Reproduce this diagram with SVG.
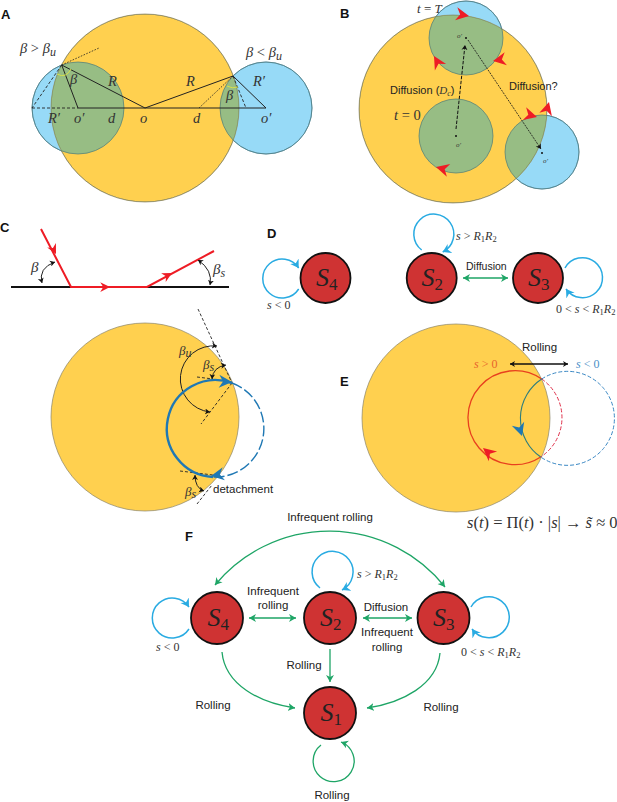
<svg xmlns="http://www.w3.org/2000/svg" xmlns:xlink="http://www.w3.org/1999/xlink" width="617" height="802" viewBox="0 0 617 802">
<style>
text{font-family:"Liberation Sans",Arial,sans-serif;font-size:11.5px;fill:#222}
.m{font-family:"Liberation Serif","DejaVu Serif",serif;font-size:14.5px;fill:#333}
.ms{font-size:12px}
.i{font-style:italic}
.p{font-weight:bold;font-size:13px;fill:#111}
.c{text-anchor:middle}
.y{fill:#FFD04F;stroke:#8A8468;stroke-width:.7}
.b{fill:#97DAF7;stroke:#4C86A8;stroke-width:.7}
.g{fill:#97BD84}
.ol{fill:none;stroke-width:.7}
.st{fill:#CF3333;stroke:#111;stroke-width:1.8}
.sl{font-family:"Liberation Serif",serif;font-style:italic;font-size:26px;fill:#222}
.sub{font-size:17px;font-style:normal}
.k{fill:none;stroke:#222;stroke-width:1}
.kd{fill:none;stroke:#222;stroke-width:.9;stroke-dasharray:3 2}
.kf{fill:none;stroke:#222;stroke-width:.8;stroke-dasharray:1.6 1.4}
.lb{fill:none;stroke:#29ABE2;stroke-width:1.5;marker-end:url(#mb)}
.lg{fill:none;stroke:#1EA566;stroke-width:1.3;marker-end:url(#mg)}
.lgd{fill:none;stroke:#1EA566;stroke-width:1.3;marker-end:url(#mg);marker-start:url(#mgs)}
.r{fill:none;stroke:#EE1C25;stroke-width:2}
</style>
<defs>
<marker id="mb" markerUnits="userSpaceOnUse" markerWidth="12" markerHeight="12" refX="8" refY="5" orient="auto"><path d="M0 0L8 5L0 10L2.500 5Z" fill="#29ABE2"/></marker>
<marker id="mg" markerUnits="userSpaceOnUse" markerWidth="10" markerHeight="10" refX="7" refY="4" orient="auto"><path d="M0 0L7 4L0 8L2 4Z" fill="#1EA566"/></marker>
<marker id="mgs" markerUnits="userSpaceOnUse" markerWidth="10" markerHeight="10" refX="0" refY="4" orient="auto"><path d="M7 0L0 4L7 8L5 4Z" fill="#1EA566"/></marker>
<marker id="mk" markerUnits="userSpaceOnUse" markerWidth="8" markerHeight="8" refX="5" refY="3" orient="auto"><path d="M0 0L5 3L0 6L1.400 3Z" fill="#111"/></marker>
<marker id="mks" markerUnits="userSpaceOnUse" markerWidth="8" markerHeight="8" refX="0" refY="3" orient="auto"><path d="M5 0L0 3L5 6L3.600 3Z" fill="#111"/></marker>
<path id="rh" d="M0 0L-13 -6.500L-9 0L-13 6.500Z" fill="#EE1C25"/>
<path id="bh" d="M0 0L-13 -6.500L-9 0L-13 6.500Z" fill="#1F78B4"/>
<clipPath id="ca"><circle cx="145" cy="108" r="94"/></clipPath>
<clipPath id="cb"><circle cx="453" cy="109" r="94"/></clipPath>
</defs>
<rect width="617" height="802" fill="#fff"/>

<g id="panel-A">
<circle class="b" cx="78" cy="108" r="46"/><circle class="b" cx="266" cy="108" r="46"/>
<circle class="y" cx="145" cy="108" r="94"/>
<g clip-path="url(#ca)"><circle class="g" cx="78" cy="108" r="46"/><circle class="g" cx="266" cy="108" r="46"/></g>
<g class="ol" stroke="#4C7A78"><circle cx="78" cy="108" r="46"/><circle cx="266" cy="108" r="46"/><circle cx="145" cy="108" r="94" stroke="#6E7A58" clip-path="url(#ca)"/></g>
<path class="k" d="M78 108H266M61.700 65L145 108M61.700 65L78 108M233 76L145 108M233 76L266 108"/>
<path class="kd" d="M32 108H78M61.700 65L32 108M233 76L246 108"/>
<path class="kf" d="M61.700 65L99 48M233 76L199 108"/>
<path d="M57 74Q66 79 71 69M227 86Q232 89 238 87" fill="none" stroke="#D6E04A" stroke-width="1"/>
<text class="p" x="1" y="19">A</text>
<text class="m" x="20" y="53"><tspan class="i">β</tspan> &gt; <tspan class="i">β</tspan><tspan class="ms i" dy="3">u</tspan></text>
<text class="m" x="246" y="57"><tspan class="i">β</tspan> &lt; <tspan class="i">β</tspan><tspan class="ms i" dy="3">u</tspan></text>
<text class="m i" x="108" y="86">R</text><text class="m i" x="70" y="84">β</text>
<text class="m i" x="48" y="123">R′</text><text class="m i" x="74" y="123">o′</text>
<text class="m i" x="108" y="123">d</text><text class="m i" x="140" y="123">o</text>
<text class="m i" x="193" y="123">d</text><text class="m i" x="261" y="123">o′</text>
<text class="m i" x="186" y="86">R</text><text class="m i" x="253" y="86">R′</text>
<text class="m i" x="226" y="100">β</text>
</g>

<g id="panel-B">
<circle class="b" cx="466" cy="38" r="37"/><circle class="b" cx="542" cy="152" r="37"/>
<circle class="y" cx="453" cy="109" r="94"/>
<g clip-path="url(#cb)"><circle class="g" cx="466" cy="38" r="37"/><circle class="g" cx="456" cy="136" r="37"/><circle class="g" cx="542" cy="152" r="37"/></g>
<g class="ol" stroke="#4C7A78"><circle cx="466" cy="38" r="37"/><circle cx="456" cy="136" r="37"/><circle cx="542" cy="152" r="37"/><circle cx="453" cy="109" r="94" stroke="#6E7A58" clip-path="url(#cb)"/></g>
<path d="M456 129L465 45" fill="none" stroke="#111" stroke-width="1" stroke-dasharray="3.500 1.500" marker-end="url(#mk)"/>
<path d="M468 40L541 149" fill="none" stroke="#111" stroke-width=".8" stroke-dasharray="2 1" marker-end="url(#mk)"/>
<circle cx="466" cy="38" r="1" fill="#111"/><circle cx="456" cy="136" r="1" fill="#111"/><circle cx="542" cy="153" r="1" fill="#111"/>
<use xlink:href="#rh" href="#rh" transform="translate(469,16) rotate(10)"/>
<use xlink:href="#rh" href="#rh" transform="translate(493,61) rotate(170)"/>
<use xlink:href="#rh" href="#rh" transform="translate(434,56) rotate(-120)"/>
<use xlink:href="#rh" href="#rh" transform="translate(436,167) rotate(-165)"/>
<use xlink:href="#rh" href="#rh" transform="translate(537,117) rotate(15)"/>
<use xlink:href="#rh" href="#rh" transform="translate(549,102) rotate(-75)"/>
<text class="p" x="340" y="18">B</text>
<text class="m" style="font-size:13px" x="417" y="13"><tspan class="i">t</tspan> = <tspan class="i">T</tspan></text>
<text style="font-size:11px" x="390" y="94">Diffusion (<tspan class="m i" style="font-size:11px">D</tspan><tspan class="m i" style="font-size:8px" dy="2">c</tspan><tspan dy="-2">)</tspan></text>
<text style="font-size:11px" x="509" y="90">Diffusion?</text>
<text class="m" x="394" y="120"><tspan class="i">t</tspan> = 0</text>
<text class="m i" style="font-size:7px" x="457" y="38">o′</text>
<text class="m i" style="font-size:7px" x="456" y="147">o′</text>
<text class="m i" style="font-size:7px" x="543" y="163">o′</text>
</g>

<g id="panel-C">
<path d="M11 287H229" stroke="#111" stroke-width="2" fill="none"/>
<path class="r" d="M41 229L71 287H147L214 251"/>
<use xlink:href="#rh" href="#rh" transform="translate(56,254) rotate(63) scale(.75)"/>
<use xlink:href="#rh" href="#rh" transform="translate(110,287) scale(.75)"/>
<use xlink:href="#rh" href="#rh" transform="translate(172,273) rotate(-28) scale(.75)"/>
<path class="k" d="M55 262Q38 268 42 283" marker-end="url(#mk)" marker-start="url(#mks)"/>
<path class="k" d="M198 260Q213 270 210 285" marker-end="url(#mk)" marker-start="url(#mks)"/>
<text class="m i" style="font-size:15px" x="31" y="272">β</text>
<text class="m i" style="font-size:15px" x="213" y="274">β<tspan class="ms" dy="3">s</tspan></text>
<circle class="y" cx="145" cy="417" r="94"/>
<path class="kd" d="M198 309L232 383"/>
<path class="kd" d="M232 383L201 424M197 377L213 379M180 471L213 475M197 504L212 485"/>
<path class="k" d="M217 346A33 33 0 0 0 210 412" marker-end="url(#mk)" marker-start="url(#mks)"/>
<path class="k" d="M226 365Q213 367 212 379" marker-end="url(#mk)" marker-start="url(#mks)"/>
<path class="k" d="M195 475Q195 488 204 491" marker-end="url(#mk)" marker-start="url(#mks)"/>
<path d="M232 383A48.500 48.500 0 1 0 213 477" fill="none" stroke="#1F78B4" stroke-width="2.400"/>
<path d="M232 383A48.500 48.500 0 0 1 213 477" fill="none" stroke="#1F78B4" stroke-width="1.400" stroke-dasharray="11 3"/>
<use xlink:href="#bh" href="#bh" transform="translate(232,382) rotate(3)"/>
<use xlink:href="#bh" href="#bh" transform="translate(211,476) rotate(170)"/>
<text class="p" x="0" y="232">C</text>
<text class="m i" style="font-size:13px" x="179" y="355">β<tspan class="ms" dy="2">u</tspan></text>
<text class="m i" style="font-size:13px" x="203" y="369">β<tspan class="ms" dy="2">s</tspan></text>
<text class="m i" style="font-size:13px" x="185" y="496">β<tspan class="ms" dy="2">s</tspan></text>
<text x="213" y="493">detachment</text>
</g>

<g id="panel-D">
<text class="p" x="267" y="238">D</text>
<g id="D-S4"><circle class="st" cx="325.500" cy="278" r="25"/><text class="sl" x="316" y="286">S<tspan class="sub" dy="4">4</tspan></text></g>
<g id="D-S2"><circle class="st" cx="431.700" cy="278" r="25"/><text class="sl" x="421.500" y="286">S<tspan class="sub" dy="4">2</tspan></text></g>
<g id="D-S3"><circle class="st" cx="538" cy="278" r="25"/><text class="sl" x="528" y="286">S<tspan class="sub" dy="4">3</tspan></text></g>
<g id="D-connectors">
<path class="lb" d="M298.700 289A19.500 19.500 0 1 1 298.700 268"/>
<path class="lb" d="M421.700 250A20 20 0 1 1 442.700 252"/>
<path class="lb" d="M565 268A20 20 0 1 1 566 289"/>
<path class="lgd" d="M463 278H508"/>
</g>
<text class="m ms" x="267" y="309"><tspan class="i">s</tspan> &lt; 0</text>
<text class="m ms" x="456" y="240"><tspan class="i">s</tspan> &gt; <tspan class="i">R</tspan><tspan font-size="8.500" dy="2">1</tspan><tspan class="i" dy="-2">R</tspan><tspan font-size="8.500" dy="2">2</tspan></text>
<text class="m ms" x="556" y="313">0 &lt; <tspan class="i">s</tspan> &lt; <tspan class="i">R</tspan><tspan font-size="8.500" dy="2">1</tspan><tspan class="i" dy="-2">R</tspan><tspan font-size="8.500" dy="2">2</tspan></text>
<text x="466" y="270" style="font-size:10.500px">Diffusion</text>
</g>

<g id="panel-E">
<circle class="y" cx="456" cy="418" r="94"/>
<path d="M541.700 379A47 47 0 1 0 540.700 457" fill="none" stroke="#E8401E" stroke-width="1.300"/>
<path d="M541.700 379A47 47 0 0 1 540.700 457" fill="none" stroke="#E0304A" stroke-width="1" stroke-dasharray="4 2"/>
<path d="M541.700 379A47 47 0 0 0 540.700 457" fill="none" stroke="#2E7D7D" stroke-width="1.100"/>
<path d="M541.700 379A47 47 0 1 1 540.700 457" fill="none" stroke="#3A88C4" stroke-width="1" stroke-dasharray="4 2"/>
<use xlink:href="#bh" href="#bh" transform="translate(522,436) rotate(72)"/>
<use xlink:href="#rh" href="#rh" transform="translate(483,448) rotate(-140)"/>
<path d="M510 364H568" stroke="#111" stroke-width="1.300" fill="none" marker-end="url(#mk)" marker-start="url(#mks)"/>
<text class="p" x="340" y="386">E</text>
<text x="522" y="351">Rolling</text>
<text class="m ms" style="fill:#E8622C" x="474" y="368"><tspan class="i">s</tspan> &gt; 0</text>
<text class="m ms" style="fill:#4A90C8" x="576" y="368"><tspan class="i">s</tspan> &lt; 0</text>
<text class="m" style="font-size:16.500px" x="467" y="528"><tspan class="i">s</tspan>(<tspan class="i">t</tspan>) = Π(<tspan class="i">t</tspan>) · |<tspan class="i">s</tspan>| → <tspan class="i">s̃</tspan> ≈ 0</text>
</g>

<g id="panel-F">
<text class="p" x="185" y="541">F</text>
<g id="connectors">
<path class="lgd" d="M215 585A148 148 0 0 1 445 587"/>
<path class="lg" d="M222 652C225 685 260 703 295 708"/>
<path class="lg" d="M440 653C437 685 402 703 367 708"/>
<path class="lg" d="M330 649V682"/>
<path class="lgd" d="M249 618H296"/>
<path class="lgd" d="M363 618H412"/>
<path class="lg" d="M321 745A20.500 20.500 0 1 0 341 742"/>
<path class="lb" d="M189 629A20 20 0 1 1 189 607"/>
<path class="lb" d="M320 588A20.500 20.500 0 1 1 342 590"/>
<path class="lb" d="M471 607A20.500 20.500 0 1 1 472 629"/>
</g>
<g id="S4"><circle class="st" cx="217" cy="618" r="26"/><text class="sl" x="207.500" y="626">S<tspan class="sub" dy="4">4</tspan></text></g>
<g id="S2"><circle class="st" cx="330" cy="618" r="26"/><text class="sl" x="320" y="626">S<tspan class="sub" dy="4">2</tspan></text></g>
<g id="S3"><circle class="st" cx="443.500" cy="618" r="26"/><text class="sl" x="433" y="626">S<tspan class="sub" dy="4">3</tspan></text></g>
<g id="S1"><circle class="st" cx="330" cy="713" r="26"/><text class="sl" x="320.500" y="721">S<tspan class="sub" dy="4">1</tspan></text></g>
<text class="c" x="330" y="521">Infrequent rolling</text>
<text class="c" x="273" y="595">Infrequent</text><text class="c" x="273" y="609">rolling</text>
<text class="c" x="386" y="611">Diffusion</text>
<text class="c" x="387" y="636">Infrequent</text><text class="c" x="387" y="651">rolling</text>
<text class="c" x="304" y="669">Rolling</text>
<text class="c" x="213" y="709">Rolling</text>
<text class="c" x="441" y="711">Rolling</text>
<text class="c" x="332" y="799">Rolling</text>
<text class="m ms" x="156" y="651"><tspan class="i">s</tspan> &lt; 0</text>
<text class="m ms" x="357" y="578"><tspan class="i">s</tspan> &gt; <tspan class="i">R</tspan><tspan font-size="8.500" dy="2">1</tspan><tspan class="i" dy="-2">R</tspan><tspan font-size="8.500" dy="2">2</tspan></text>
<text class="m ms" x="461" y="656">0 &lt; <tspan class="i">s</tspan> &lt; <tspan class="i">R</tspan><tspan font-size="8.500" dy="2">1</tspan><tspan class="i" dy="-2">R</tspan><tspan font-size="8.500" dy="2">2</tspan></text>
</g>
</svg>
